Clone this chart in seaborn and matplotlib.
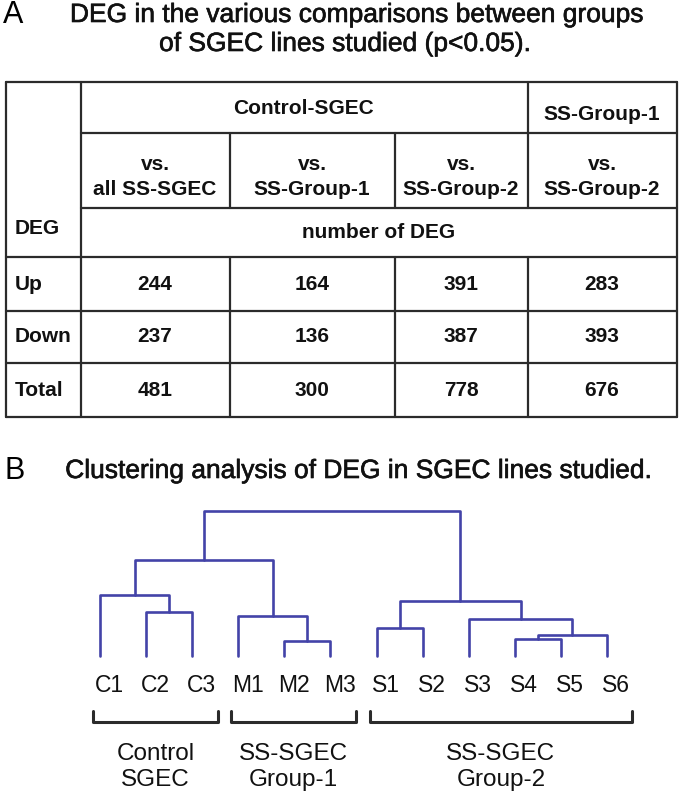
import matplotlib.pyplot as plt
import matplotlib.patheffects as pe
import numpy as np
import pandas as pd
import seaborn as sns

# ---- data ----
title_a = ["DEG in the various comparisons between groups",
           "of SGEC lines studied (p<0.05)."]
title_b = "Clustering analysis of DEG in SGEC lines studied."

group_headers = ["Control-SGEC", "SS-Group-1"]
comparisons = ["vs.\nall SS-SGEC", "vs.\nSS-Group-1",
               "vs.\nSS-Group-2", "vs.\nSS-Group-2"]
row_labels = ["Up", "Down", "Total"]
deg_up = [244, 164, 391, 283]
deg_down = [237, 136, 387, 393]
deg_total = [481, 300, 778, 676]

leaves = ["C1", "C2", "C3", "M1", "M2", "M3",
          "S1", "S2", "S3", "S4", "S5", "S6"]
merge_name = ["C23", "C", "M23", "M", "CM",
              "S45", "S456", "S3456", "S12", "S", "all"]
merge_left = ["C2", "C1", "M2", "M1", "C",
              "S4", "S45", "S3", "S1", "S12", "CM"]
merge_right = ["C3", "C23", "M3", "M23", "M",
               "S5", "S6", "S456", "S2", "S3456", "S"]
merge_height = [44, 61, 15, 40, 96, 17, 21, 37, 28, 55, 145]

group_names = ["Control\nSGEC", "SS-SGEC\nGroup-1", "SS-SGEC\nGroup-2"]
group_first = ["C1", "M1", "S1"]
group_last = ["C3", "M3", "S6"]

# ---- style ----
sns.set_theme(style="white")
plt.rcParams['font.family'] = ['Liberation Sans', 'DejaVu Sans']
line_col = '#2b2b2b'
tree_col = '#4343a8'
txt_col = '#111111'
heavy = [pe.withStroke(linewidth=0.45, foreground=txt_col)]

fig = plt.figure(figsize=(6.83, 7.99), dpi=100)
ax = fig.add_axes([0, 0, 1, 1])
ax.set_xlim(0, 683)
ax.set_ylim(799, 0)
ax.axis('off')

# ---- panel A: titles ----
ax.text(13, 15, "A", fontsize=22, ha='center', va='center', color='black')
ax.text(357, 15, title_a[0], fontsize=19, ha='center', va='center',
        color=txt_col, path_effects=heavy)
ax.text(345, 44, title_a[1], fontsize=19, ha='center', va='center',
        color=txt_col, path_effects=heavy)

# ---- panel A: table grid ----
x_left, x_right = 6, 677

for y in [82, 257, 311, 363, 417]:
    ax.plot([x_left, x_right], [y, y], color=line_col, lw=1.6)
for y in [133, 208]:
    ax.plot([81, x_right], [y, y], color=line_col, lw=1.6)
for x in [x_left, 81, x_right]:
    ax.plot([x, x], [82, 417], color=line_col, lw=1.6)
for x in [230, 395]:
    ax.plot([x, x], [133, 208], color=line_col, lw=1.6)
    ax.plot([x, x], [257, 417], color=line_col, lw=1.6)
ax.plot([528, 528], [82, 208], color=line_col, lw=1.6)
ax.plot([528, 528], [257, 417], color=line_col, lw=1.6)

col_centers = [155, 312, 461, 602]
row_centers = [284, 337, 390]
tkw = dict(fontsize=15, fontweight='bold', color=txt_col, va='center')

ax.text(304, 108, group_headers[0], ha='center', **tkw)
ax.text(602, 114, group_headers[1], ha='center', **tkw)
for cx, lab in zip(col_centers, comparisons):
    ax.text(cx, 177, lab, ha='center', linespacing=1.45, **tkw)
ax.text(15, 228, "DEG", ha='left', **tkw)
ax.text(379, 232, "number of DEG", ha='center', **tkw)

table_vals = [deg_up, deg_down, deg_total]
for cy, lab, vals in zip(row_centers, row_labels, table_vals):
    ax.text(15, cy, lab, ha='left', **tkw)
    for cx, v in zip(col_centers, vals):
        ax.text(cx, cy, str(v), ha='center', **tkw)

# ---- panel B: titles ----
ax.text(15, 471, "B", fontsize=22, ha='center', va='center', color='black')
ax.text(359, 471, title_b, fontsize=19, ha='center', va='center',
        color=txt_col, path_effects=heavy)

# ---- panel B: dendrogram ----
pos = {leaf: float(i) for i, leaf in enumerate(leaves)}
hgt = {leaf: 0.0 for leaf in leaves}
rows = []
for name, left, right, h in zip(merge_name, merge_left, merge_right,
                                merge_height):
    xl, xr = pos[left], pos[right]
    rows += [(name, 0, xl, hgt[left]), (name, 1, xl, h),
             (name, 2, xr, h), (name, 3, xr, hgt[right])]
    pos[name] = (xl + xr) / 2
    hgt[name] = h
segs = pd.DataFrame(rows, columns=['node', 'order', 'x', 'y'])

axd = fig.add_axes([77 / 683, 0, 553 / 683, 293 / 799])
sns.lineplot(data=segs, x='x', y='y', units='node', estimator=None,
             sort=False, color=tree_col, lw=1.9, ax=axd, legend=False)
axd.set_xlim(-0.5, 11.5)
axd.set_ylim(-143, 150)
axd.axis('off')

for leaf in leaves:
    axd.text(pos[leaf] + 0.2, -29, leaf, fontsize=16.5, ha='center',
             va='center', color=txt_col)

for name, first, last in zip(group_names, group_first, group_last):
    x0, x1 = pos[first] - 0.15, pos[last] + 0.55
    axd.plot([x0, x0, x1, x1], [-55, -66, -66, -55], color=line_col,
             lw=2.2, clip_on=False)
    axd.text((pos[first] + pos[last]) / 2 + 0.2, -111, name, fontsize=17.5,
             ha='center', va='center', linespacing=1.2, color=txt_col)

fig.savefig('out.png', dpi=100)
